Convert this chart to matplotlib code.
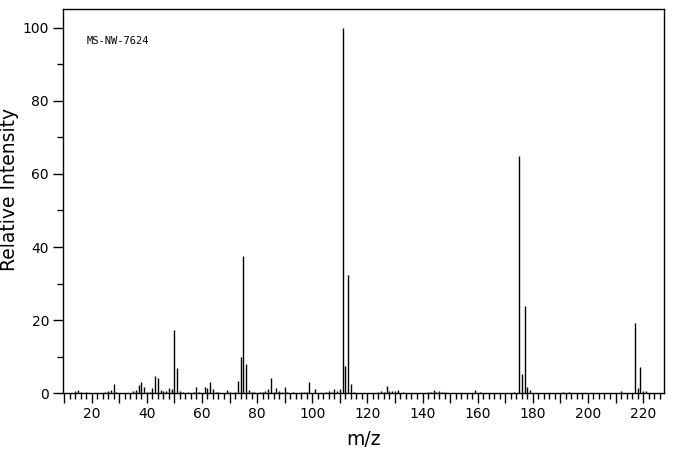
import numpy as np
import matplotlib
matplotlib.use("Agg")
import matplotlib.pyplot as plt
from matplotlib.ticker import MultipleLocator, FuncFormatter

# peak list (m/z, relative intensity %)
mz = [14, 15, 16, 18, 25, 26, 27, 28, 29, 35, 36, 37, 38, 39, 40, 41, 42, 43, 44,
      45, 46, 47, 48, 49, 50, 51, 52, 53, 55, 57, 58, 59, 61, 62, 63, 64, 65, 66,
      69, 70, 72, 73, 74, 75, 76, 77, 78, 79, 81, 82, 83, 84, 85, 86, 87, 88, 89,
      90, 91, 93, 96, 97, 98, 99, 101, 105, 106, 107, 108, 109, 110, 111, 112, 113,
      114, 115, 124, 125, 126, 127, 128, 129, 130, 131, 133, 142, 143, 144, 145,
      146, 147, 148, 159, 161, 173, 175, 176, 177, 178, 179, 191, 193, 212, 217,
      218, 219, 220, 221]
intensity = [0.5, 0.9, 0.4, 0.4, 0.4, 0.5, 0.8, 2.5, 0.4, 0.5, 1.0, 2.2, 3.0, 1.8,
             0.3, 0.3, 1.5, 4.7, 4.2, 1.0, 0.7, 0.5, 1.5, 1.3, 17.2, 6.9, 0.5, 0.3,
             0.4, 0.4, 1.6, 0.4, 1.8, 1.5, 3.2, 1.2, 0.4, 0.3, 1.0, 0.3, 0.3, 3.5,
             9.9, 37.5, 7.9, 0.8, 0.4, 0.3, 0.4, 0.3, 0.5, 1.2, 4.3, 0.3, 1.5, 0.5,
             0.3, 1.8, 0.3, 0.3, 0.3, 0.3, 0.3, 3.2, 1.2, 0.3, 0.5, 0.4, 1.1, 0.7,
             1.2, 100.0, 7.5, 32.3, 2.5, 0.3, 0.3, 0.5, 0.3, 2.0, 0.5, 0.7, 0.5, 0.8,
             0.3, 0.3, 0.4, 0.9, 0.3, 0.5, 0.3, 0.3, 1.0, 0.3, 0.3, 64.8, 5.3, 24.0,
             1.7, 1.0, 0.3, 0.3, 0.5, 19.1, 1.5, 7.3, 0.5, 0.5]

fig = plt.figure(figsize=(6.76, 4.55), dpi=100)
ax = fig.add_axes([0.0932, 0.1356, 0.8891, 0.8440])

ax.vlines(mz, 0, intensity, colors="black", linewidth=1)

ax.set_xlim(9.6, 227.6)
ax.set_ylim(0, 105)

ax.xaxis.set_major_locator(MultipleLocator(10))
ax.xaxis.set_minor_locator(MultipleLocator(2))
ax.xaxis.set_major_formatter(FuncFormatter(lambda v, p: f"{v:.0f}" if v % 20 == 0 else ""))
ax.yaxis.set_major_locator(MultipleLocator(20))
ax.yaxis.set_minor_locator(MultipleLocator(10))

ax.tick_params(axis="both", which="major", direction="out", length=7, width=1,
               labelsize=10, pad=3)
ax.tick_params(axis="both", which="minor", direction="out", length=4, width=1)

for s in ax.spines.values():
    s.set_linewidth(1)

ax.set_xlabel("m/z", fontsize=13.5, labelpad=6)
ax.set_ylabel("Relative Intensity", fontsize=13.5)
ax.yaxis.set_label_coords(-0.074, 0.53)

ax.text(0.04, 0.917, "MS-NW-7624", transform=ax.transAxes, fontsize=7.5,
        family="DejaVu Sans Mono", va="center", ha="left")

fig.savefig("out.png", dpi=100)
